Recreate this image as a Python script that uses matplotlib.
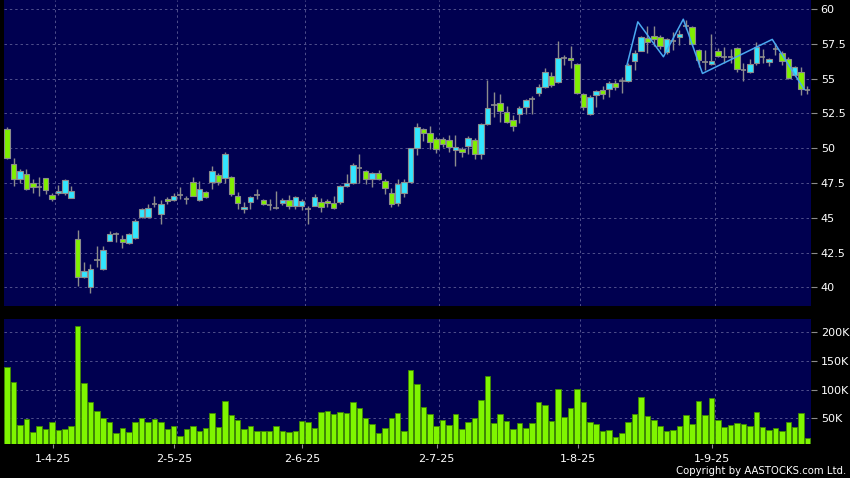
import matplotlib
matplotlib.use("Agg")
import matplotlib.pyplot as plt
import numpy as np

# ---------------- data ----------------
opens = [51.37, 48.84, 47.76, 48.14, 47.47, 47.23, 47.83, 46.61, 46.75, 46.75,
         46.44, 43.45, 40.76, 40.0, 41.96, 41.29, 43.35, 43.81, 43.45, 43.2,
         43.52, 45.03, 45.07, 45.96, 45.27, 46.34, 46.29, 46.63, 46.32, 47.54,
         46.25, 46.82, 47.56, 48.05, 47.83, 47.9, 46.54, 45.6, 46.1, 46.61,
         46.27, 45.93, 45.72, 46.03, 46.25, 45.84, 45.84, 45.62, 45.86, 46.1,
         46.18, 46.03, 46.1, 47.28, 47.47, 48.55, 48.33, 47.76, 48.21, 47.61,
         46.75, 46.03, 46.75, 47.54, 49.99, 51.35, 51.06, 50.65, 50.65, 50.56,
         49.84, 49.91, 50.15, 50.56, 49.55, 51.71, 53.07, 53.22, 52.61, 52.02,
         52.43, 52.97, 53.53, 53.98, 54.37, 55.18, 54.77, 56.45, 56.45, 56.02,
         53.86, 52.43, 53.79, 54.17, 54.27, 54.66, 54.82, 54.82, 56.28, 57.0,
         57.91, 58.05, 58.0, 56.93, 57.69, 57.96, 58.77, 58.68, 57.05, 56.16,
         56.02, 57.0, 56.52, 56.52, 57.17, 55.61, 55.49, 56.09, 56.57, 56.16,
         57.12, 56.81, 56.38, 55.25, 55.49, 54.17]
highs = [51.5, 49.27, 48.5, 48.48, 47.8, 47.9, 47.85, 46.75, 47.35, 47.78,
         47.28, 44.12, 41.8, 41.65, 42.97, 42.97, 44.04, 44.0, 43.76, 43.9,
         44.9, 45.7, 45.96, 46.56, 46.27, 46.5, 46.8, 47.18, 46.55, 47.9,
         47.64, 46.95, 48.71, 48.25, 49.7, 48.0, 46.85, 46.1, 46.6, 47.04,
         46.35, 46.32, 46.92, 46.4, 46.63, 46.55, 46.35, 45.84, 46.68, 46.4,
         46.35, 46.54, 47.35, 48.14, 48.91, 49.58, 48.45, 48.3, 48.4, 47.8,
         47.11, 47.76, 47.76, 50.0, 51.82, 51.45, 51.59, 50.8, 50.8, 50.92,
         50.94, 50.1, 50.85, 50.75, 51.82, 54.89, 54.01, 53.9, 53.0, 52.4,
         53.0, 53.55, 53.74, 54.6, 55.73, 55.5, 57.69, 56.7, 57.33, 56.1,
         54.0, 53.8, 54.2, 54.46, 54.8, 54.9, 55.13, 56.1, 57.05, 58.05,
         58.77, 58.77, 58.1, 57.95, 58.36, 58.5, 59.2, 58.75, 57.15, 57.05,
         58.2, 57.2, 57.3, 57.1, 57.3, 56.1, 56.4, 57.64, 57.1, 56.5,
         57.53, 57.0, 56.55, 55.9, 55.8, 54.5]
lows = [49.2, 47.3, 47.5, 46.99, 46.75, 46.58, 46.7, 46.22, 46.63, 46.63,
        46.4, 40.09, 40.7, 39.61, 41.48, 41.25, 43.3, 43.28, 42.8, 43.1,
        43.5, 44.95, 45.0, 45.75, 44.57, 46.0, 46.2, 46.34, 46.0, 46.55,
        46.2, 46.4, 47.04, 47.35, 47.47, 46.6, 45.6, 45.36, 45.6, 46.32,
        45.9, 45.55, 45.6, 45.9, 45.6, 45.6, 45.55, 44.53, 45.84, 45.43,
        45.79, 45.6, 46.0, 47.2, 47.4, 47.47, 47.4, 47.23, 47.7, 46.7,
        45.75, 45.84, 46.5, 47.5, 49.5, 50.51, 49.91, 49.67, 50.06, 49.74,
        48.71, 49.38, 49.55, 49.2, 49.2, 51.65, 52.26, 51.9, 51.8, 51.25,
        51.82, 52.45, 52.45, 53.75, 54.3, 54.4, 54.7, 56.0, 55.73, 53.9,
        52.74, 52.4, 52.97, 53.5, 53.65, 54.2, 53.98, 54.75, 55.61, 56.95,
        56.81, 57.33, 57.1, 56.76, 57.05, 57.4, 58.6, 57.4, 55.85, 55.61,
        55.95, 56.55, 56.09, 56.09, 55.49, 54.84, 55.4, 56.0, 56.1, 55.9,
        56.7, 56.0, 55.0, 55.2, 53.81, 53.9]
closes = [49.31, 47.76, 48.35, 47.08, 47.18, 47.23, 46.99, 46.32, 46.9, 47.71,
          46.92, 40.76, 41.17, 41.29, 41.96, 42.66, 43.81, 43.81, 43.28, 43.81,
          44.76, 45.6, 45.68, 45.96, 46.0, 46.2, 46.58, 46.63, 46.32, 46.58,
          47.04, 46.51, 48.33, 47.54, 49.55, 46.68, 46.08, 45.77, 46.49, 46.61,
          45.96, 45.93, 45.72, 46.27, 45.82, 46.47, 46.18, 45.62, 46.47, 45.79,
          46.03, 45.72, 47.28, 47.51, 48.79, 48.55, 47.76, 48.21, 47.78, 47.11,
          46.0, 47.4, 47.54, 49.99, 51.49, 51.06, 50.42, 49.91, 50.27, 50.1,
          50.06, 49.7, 50.7, 49.55, 51.73, 52.86, 53.07, 52.66, 51.85, 51.59,
          52.86, 53.43, 53.53, 54.37, 55.45, 54.53, 56.45, 56.45, 56.31, 53.98,
          52.93, 53.69, 54.08, 53.86, 54.66, 54.37, 54.82, 55.97, 56.81, 57.96,
          57.64, 57.82, 57.33, 57.82, 57.69, 58.18, 58.77, 57.46, 56.33, 56.16,
          56.28, 56.64, 56.52, 56.52, 55.66, 55.61, 56.02, 57.24, 56.57, 56.38,
          57.12, 56.28, 55.06, 55.81, 54.29, 54.17]
volumes_k = [140, 113, 38, 49, 27, 36, 31, 44, 30, 31,
             36, 211, 111, 79, 63, 50, 44, 24, 33, 27,
             43, 51, 43, 49, 43, 32, 36, 19, 32, 36,
             28, 33, 59, 35, 81, 56, 48, 32, 36, 28,
             28, 28, 36, 28, 26, 28, 45, 43, 33, 61,
             62, 57, 61, 59, 78, 68, 50, 40, 25, 33,
             51, 59, 28, 135, 110, 70, 57, 36, 47, 39,
             57, 32, 43, 51, 82, 124, 42, 57, 46, 32,
             42, 34, 42, 79, 73, 46, 102, 52, 68, 102,
             78, 44, 40, 28, 30, 18, 24, 44, 57, 87,
             55, 47, 37, 28, 30, 36, 56, 41, 80, 56,
             86, 47, 35, 38, 42, 41, 36, 61, 35, 30,
             33, 28, 43, 35, 59, 16]
month_labels = ["1-4-25", "2-5-25", "2-6-25", "2-7-25", "1-8-25", "1-9-25"]
month_pos = [7.5, 26.5, 46.5, 67.5, 89.5, 110.5]
pattern_x = [96.8, 98.5, 102.5, 105.6, 108.6, 119.5, 124.5]
pattern_y = [55.97, 59.08, 56.57, 59.27, 55.37, 57.82, 54.22]
price_ticks = [40, 42.5, 45, 47.5, 50, 52.5, 55, 57.5, 60]
vol_ticks_k = [50, 100, 150, 200]

# ---------------- style ----------------
W, H = 850, 478
BG = "#000000"
PANEL = "#000050"
GRID = "#50508c"
UP = "#33e6ff"
DOWN = "#80f000"
EDGE = "#8c8c8c"
VOL = "#7ff500"
VOL_EDGE = "#3f8a00"
DASH = (0, (2.5, 3))

fig = plt.figure(figsize=(W / 100, H / 100), dpi=100, facecolor=BG)

def rect(x0, y0, x1, y1):
    return [x0 / W, 1 - y1 / H, (x1 - x0) / W, (y1 - y0) / H]

axp = fig.add_axes(rect(4, 0, 811, 306))
axv = fig.add_axes(rect(4, 319, 811, 444))

n = len(closes)
idx = np.arange(n)
o = np.array(opens); h = np.array(highs); l = np.array(lows); c = np.array(closes)

for ax in (axp, axv):
    ax.set_facecolor(PANEL)
    for s in ax.spines.values():
        s.set_visible(False)
    ax.set_xlim(-0.5, n - 0.45)
    ax.yaxis.tick_right()
    ax.tick_params(axis="y", colors=EDGE, labelcolor="white", length=4,
                   width=0.8, labelsize=8, pad=3)
    for xp in month_pos:
        ax.axvline(xp, color=GRID, lw=0.7, ls=DASH, zorder=0)

# price panel
axp.set_ylim(38.66, 60.65)
axp.set_yticks(price_ticks)
axp.set_yticklabels([("%g" % t) for t in price_ticks])
for t in price_ticks:
    axp.axhline(t, color=GRID, lw=0.7, ls=DASH, zorder=0)
axp.set_xticks([])

axp.vlines(idx, l, h, color=EDGE, lw=1.0, zorder=2)
bw = 0.86
up = c > o
dn = c < o
eq = c == o
axp.bar(idx[up], (c - o)[up], bottom=o[up], width=bw, color=UP,
        edgecolor=EDGE, linewidth=0.8, zorder=3)
axp.bar(idx[dn], (o - c)[dn], bottom=c[dn], width=bw, color=DOWN,
        edgecolor=EDGE, linewidth=0.8, zorder=3)
axp.hlines(c[eq], idx[eq] - bw / 2, idx[eq] + bw / 2, color=EDGE, lw=1.2, zorder=3)

axp.plot(pattern_x, pattern_y, color="#4aa8f0", lw=1.1, zorder=4)

# volume panel
axv.set_ylim(5.4, 223)
axv.set_yticks(vol_ticks_k)
axv.set_yticklabels(["%dK" % v for v in vol_ticks_k])
for t in vol_ticks_k:
    axv.axhline(t, color=GRID, lw=0.7, ls=DASH, zorder=0)
axv.bar(idx, volumes_k, width=0.86, color=VOL, edgecolor=VOL_EDGE,
        linewidth=0.6, zorder=2)
axv.set_xticks([p - 0.4 for p in month_pos])
axv.set_xticklabels(month_labels)
axv.tick_params(axis="x", colors=EDGE, labelcolor="white", length=3,
                width=0.8, labelsize=8, pad=4)

fig.text(846 / W, 1 - 471 / H, "Copyright by AASTOCKS.com Ltd.", color="white",
         fontsize=7.3, ha="right", va="center")

fig.savefig("out.png", dpi=100, facecolor=BG)
